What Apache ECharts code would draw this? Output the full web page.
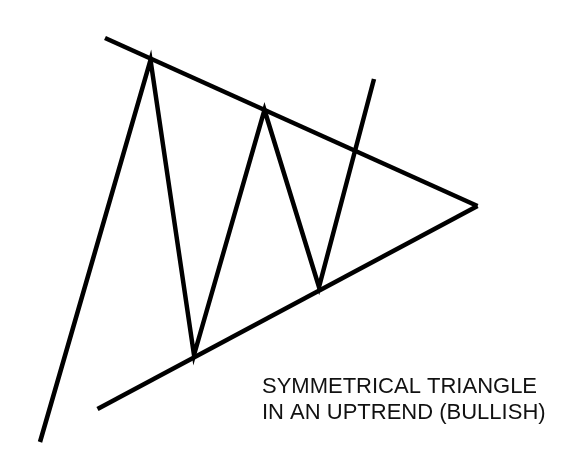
<!DOCTYPE html>
<html>
<head>
<meta charset="utf-8">
<script src="https://cdn.jsdelivr.net/npm/echarts@6/dist/echarts.min.js"></script>
<style>
  html, body { margin: 0; padding: 0; background: #ffffff; }
  #chart { width: 575px; height: 464px; }
</style>
</head>
<body>
<div id="chart"></div>
<script>
// Price path (x = time units, y = price units)
var priceX = [40, 150.5, 194, 264.5, 319, 374];
var priceY = [22, 404, 109, 354, 177, 385];
// Upper (descending) trendline
var upperX = [105, 477.5];
var upperY = [426, 258];
// Lower (ascending) trendline
var lowerX = [97.5, 477.5];
var lowerY = [55, 258];
// Caption lines
var captionLines = ['SYMMETRICAL TRIANGLE', 'IN AN UPTREND (BULLISH)'];

function pairs(xs, ys) {
  return xs.map(function (x, i) { return [x, ys[i]]; });
}

var chart = echarts.init(document.getElementById('chart'));
var lineStyle = { color: '#000000', width: 4.5, cap: 'butt', join: 'miter' };

chart.setOption({
  animation: false,
  backgroundColor: '#ffffff',
  grid: { left: 0, right: 0, top: 0, bottom: 0 },
  xAxis: { type: 'value', min: 0, max: 575, show: false },
  yAxis: { type: 'value', min: 0, max: 464, show: false },
  series: [
    { type: 'line', data: pairs(priceX, priceY), symbol: 'none', lineStyle: lineStyle },
    { type: 'line', data: pairs(upperX, upperY), symbol: 'none', lineStyle: lineStyle },
    { type: 'line', data: pairs(lowerX, lowerY), symbol: 'none', lineStyle: lineStyle }
  ],
  graphic: captionLines.map(function (t, i) {
    return {
      type: 'text',
      left: 262,
      top: 376 + i * 26,
      style: {
        text: t,
        fill: '#111111',
        font: '22px "Liberation Sans", Arial, sans-serif'
      }
    };
  })
});
</script>
</body>
</html>
